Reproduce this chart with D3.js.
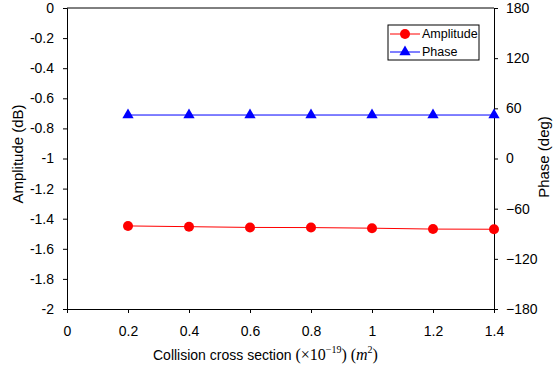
<!DOCTYPE html>
<html>
<head>
<meta charset="utf-8">
<script src="https://cdn.jsdelivr.net/npm/d3@7"></script>
<style>
  body { margin: 0; background: #fff; }
  svg { display: block; font-family: "Liberation Sans", Arial, sans-serif; }
  .tick text { font-size: 14px; fill: #000; }
</style>
</head>
<body>
<div id="chart"></div>
<script>
// data
const crossSection = [0.2, 0.4, 0.6, 0.8, 1.0, 1.2, 1.4];
const amplitude = [-1.448, -1.453, -1.458, -1.459, -1.463, -1.469, -1.47];
const phase = [52, 52, 52, 52, 52, 52, 52];
const xTicks = [0, 0.2, 0.4, 0.6, 0.8, 1, 1.2, 1.4];
const ampTicks = [0, -0.2, -0.4, -0.6, -0.8, -1, -1.2, -1.4, -1.6, -1.8, -2];
const phaseTicks = [180, 120, 60, 0, -60, -120, -180];

const width = 553, height = 371;
const margin = { left: 67, right: 59, top: 8, bottom: 62 };

const svg = d3.select("#chart").append("svg")
    .attr("width", width)
    .attr("height", height);

const x = d3.scaleLinear().domain([0, 1.4]).range([margin.left, width - margin.right]);
const yAmp = d3.scaleLinear().domain([-2, 0]).range([height - margin.bottom, margin.top]);
const yPh = d3.scaleLinear().domain([-180, 180]).range([height - margin.bottom, margin.top]);

// axes
svg.append("g")
    .attr("transform", `translate(0,${height - margin.bottom})`)
    .call(d3.axisBottom(x).tickValues(xTicks).tickSize(4).tickPadding(13).tickFormat(d => String(d)))
    .call(g => g.select(".domain").attr("stroke", "#000"));

svg.append("g")
    .attr("transform", `translate(${margin.left},0)`)
    .call(d3.axisLeft(yAmp).tickValues(ampTicks).tickSize(4).tickPadding(9).tickFormat(d => String(d)))
    .call(g => g.select(".domain").attr("stroke", "#000"));

svg.append("g")
    .attr("transform", `translate(${width - margin.right},0)`)
    .call(d3.axisRight(yPh).tickValues(phaseTicks).tickSize(4).tickPadding(8).tickFormat(d => d < 0 ? "\u2212" + (-d) : String(d)))
    .call(g => g.select(".domain").attr("stroke", "#000"));

svg.selectAll(".tick line").attr("stroke", "#000");

// top border
svg.append("line")
    .attr("x1", margin.left).attr("x2", width - margin.right)
    .attr("y1", margin.top).attr("y2", margin.top)
    .attr("stroke", "#000");

// amplitude series
const ampData = crossSection.map((c, i) => [c, amplitude[i]]);
svg.append("path")
    .datum(ampData)
    .attr("fill", "none")
    .attr("stroke", "#ff0000")
    .attr("stroke-width", 1)
    .attr("d", d3.line().x(d => x(d[0])).y(d => yAmp(d[1])));

svg.append("g").selectAll("circle")
    .data(ampData)
    .enter().append("circle")
    .attr("cx", d => x(d[0]))
    .attr("cy", d => yAmp(d[1]))
    .attr("r", 5)
    .attr("fill", "#ff0000");

// phase series
const phData = crossSection.map((c, i) => [c, phase[i]]);
svg.append("path")
    .datum(phData)
    .attr("fill", "none")
    .attr("stroke", "#0000ff")
    .attr("stroke-width", 1)
    .attr("d", d3.line().x(d => x(d[0])).y(d => yPh(d[1])));

const tri = d3.symbol().type(d3.symbolTriangle).size(55);
svg.append("g").selectAll("path")
    .data(phData)
    .enter().append("path")
    .attr("d", tri)
    .attr("transform", d => `translate(${x(d[0])},${yPh(d[1])})`)
    .attr("fill", "#0000ff");

// legend
const legend = svg.append("g").attr("transform", "translate(388,25)");
legend.append("rect")
    .attr("width", 91).attr("height", 35)
    .attr("fill", "#fff").attr("stroke", "#000");
const legendItems = [
    { label: "Amplitude", color: "#ff0000", shape: "circle" },
    { label: "Phase", color: "#0000ff", shape: "triangle" }
];
legendItems.forEach((item, i) => {
    const yy = 9 + i * 18;
    legend.append("line")
        .attr("x1", 2).attr("x2", 32).attr("y1", yy).attr("y2", yy)
        .attr("stroke", item.color);
    if (item.shape === "circle") {
        legend.append("circle").attr("cx", 17).attr("cy", yy).attr("r", 5).attr("fill", item.color);
    } else {
        legend.append("path").attr("d", tri).attr("transform", `translate(17,${yy})`).attr("fill", item.color);
    }
    legend.append("text")
        .attr("x", 34).attr("y", yy + 4)
        .attr("font-size", 12.5)
        .text(item.label);
});

// axis titles
svg.append("text")
    .attr("transform", `translate(23,154) rotate(-90)`)
    .attr("text-anchor", "middle")
    .attr("font-size", 15)
    .text("Amplitude (dB)");

svg.append("text")
    .attr("transform", `translate(549,157) rotate(-90)`)
    .attr("text-anchor", "middle")
    .attr("font-size", 15)
    .text("Phase (deg)");

const xt = svg.append("text")
    .attr("x", 153).attr("y", 360)
    .attr("font-size", 14);
xt.append("tspan").text("Collision cross section   ");
const serif = xt.append("tspan").attr("font-family", "'Liberation Serif', 'Times New Roman', serif").attr("font-size", 16);
serif.append("tspan").text("(\u00d710");
serif.append("tspan").attr("dy", -7).attr("font-size", 10).text("\u221219");
serif.append("tspan").attr("dy", 7).text(") (");
serif.append("tspan").attr("font-style", "italic").text("m");
serif.append("tspan").attr("dy", -7).attr("font-size", 10).text("2");
serif.append("tspan").attr("dy", 7).text(")");
</script>
</body>
</html>
